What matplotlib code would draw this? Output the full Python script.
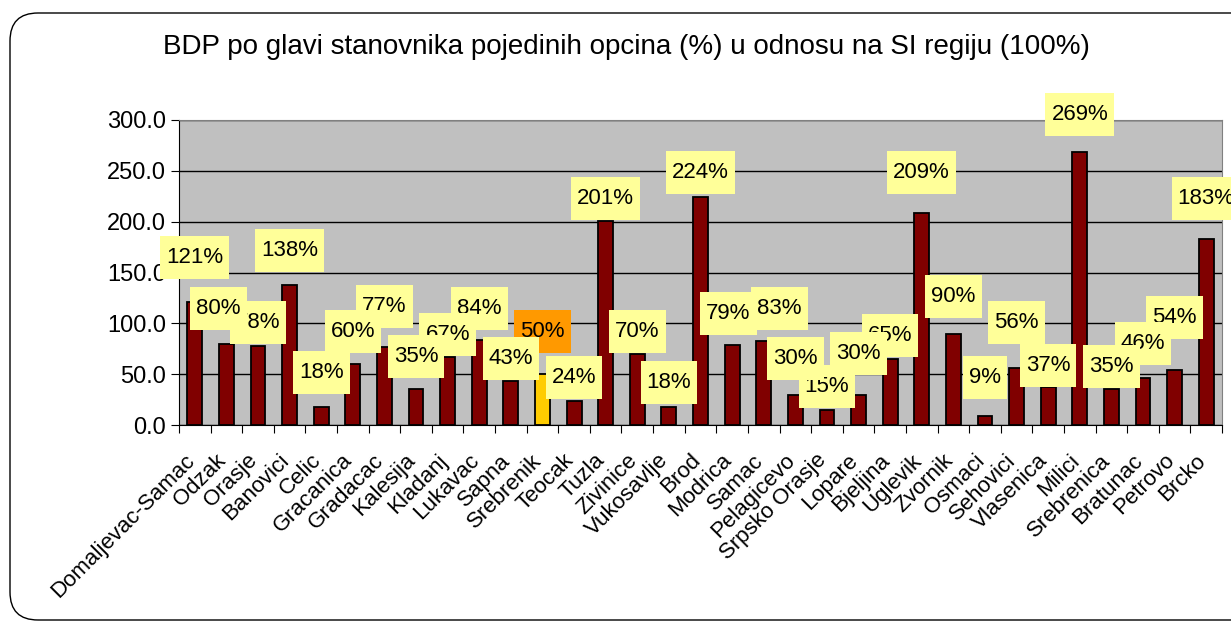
import numpy as np
import matplotlib
matplotlib.use('Agg')
import matplotlib.pyplot as plt
import matplotlib.transforms as mtransforms
from matplotlib.patches import FancyBboxPatch, Rectangle

plt.rcParams['font.family'] = ['Liberation Sans', 'DejaVu Sans']

# podaci
opcine = ['Domaljevac-Samac', 'Odzak', 'Orasje', 'Banovici', 'Celic', 'Gracanica',
          'Gradacac', 'Kalesija', 'Kladanj', 'Lukavac', 'Sapna', 'Srebrenik', 'Teocak',
          'Tuzla', 'Zivinice', 'Vukosavlje', 'Brod', 'Modrica', 'Samac', 'Pelagicevo',
          'Srpsko Orasje', 'Lopare', 'Bjeljina', 'Uglevik', 'Zvornik', 'Osmaci',
          'Sehovici', 'Vlasenica', 'Milici', 'Srebrenica', 'Bratunac', 'Petrovo', 'Brcko']
bdp = [121, 80, 78, 138, 18, 60, 77, 35, 67, 84, 43, 50, 24, 201, 70, 18, 224, 79, 83,
       30, 15, 30, 65, 209, 90, 9, 56, 37, 269, 35, 46, 54, 183]
istaknuta = 'Srebrenik'

# gdje stoje oznake (centar kucice)
oznaka_y = [165, 115, 101, 172, 52, 92, 117, 67, 89, 115, 65, 92, 47, 223, 92, 42, 248,
            110, 115, 65, 38, 70, 88, 248, 126, 47, 101, 59, 305, 58, 80, 106, 223]
oznaka_dx = [0] * len(opcine)
oznaka_dx[1] = -0.25
oznaka_dx[17] = -0.12
oznaka_dx[18] = 0.5

fig = plt.figure(figsize=(12.31, 6.25), dpi=100, facecolor='white')
ax = fig.add_axes([0.1454, 0.32, 0.8473, 0.488])

# okvir oko cijelog grafikona (u pikselima)
okvir = FancyBboxPatch((10, 5), 1300, 607, boxstyle='round,pad=0,rounding_size=28',
                       transform=mtransforms.IdentityTransform(), facecolor='none',
                       edgecolor='black', linewidth=1.0, zorder=0)
fig.patches.append(okvir)

x = np.arange(len(opcine))
boje = ['#FFCC00' if o == istaknuta else '#800000' for o in opcine]
ax.bar(x, bdp, width=0.47, color=boje, edgecolor='black', linewidth=1.3, zorder=3)

ax.set_facecolor('#C0C0C0')
ax.set_xlim(-0.5, len(opcine) - 0.5)
ax.set_ylim(0, 300)
ax.set_yticks(np.arange(0, 301, 50))
ax.set_yticklabels([f'{v:.1f}' for v in np.arange(0, 301, 50)], fontsize=17)
ax.yaxis.grid(True, color='black', linewidth=1.0, zorder=1)
ax.set_axisbelow(True)

ax.set_xticks(np.arange(-0.5, len(opcine), 1.0))
ax.set_xticklabels([])
ax.set_xticks(x, minor=True)
ax.set_xticklabels(opcine, minor=True, rotation=45, ha='right', va='top',
                   rotation_mode='anchor', fontsize=16)
ax.tick_params(axis='x', which='minor', length=0, pad=18)
ax.tick_params(axis='x', which='major', length=6, direction='out')
ax.tick_params(axis='y', length=6, direction='out')
pomak = mtransforms.ScaledTranslation(-0.11, 0, fig.dpi_scale_trans)
for lbl in ax.get_xticklabels(minor=True):
    lbl.set_transform(lbl.get_transform() + pomak)

for s in ['top', 'right']:
    ax.spines[s].set_color('#808080')

tekstovi = []
for i, (v, yy) in enumerate(zip(bdp, oznaka_y)):
    t = ax.text(i + oznaka_dx[i], yy, f'{v}%', ha='center', va='center', fontsize=16,
                clip_on=False, zorder=20 + 2 * (len(bdp) - i))
    tekstovi.append(t)

# zute kucice iza oznaka
fig.canvas.draw()
r = fig.canvas.get_renderer()
px_x = ax.bbox.width / len(opcine)
px_y = ax.bbox.height / 300
for i, t in enumerate(tekstovi):
    bb = t.get_window_extent(r)
    w = (bb.width + 12) / px_x
    h = 43 / px_y
    cx, cy = t.get_position()
    fc = '#FF9900' if opcine[i] == istaknuta else '#FFFF99'
    ax.add_patch(Rectangle((cx - w / 2, cy - h / 2), w, h, facecolor=fc, edgecolor='none',
                           clip_on=False, zorder=t.get_zorder() - 1))

fig.text(0.509, 0.925, 'BDP po glavi stanovnika pojedinih opcina (%) u odnosu na SI regiju (100%)',
         ha='center', va='center', fontsize=20)

fig.savefig('out.png', dpi=100, facecolor='white')
